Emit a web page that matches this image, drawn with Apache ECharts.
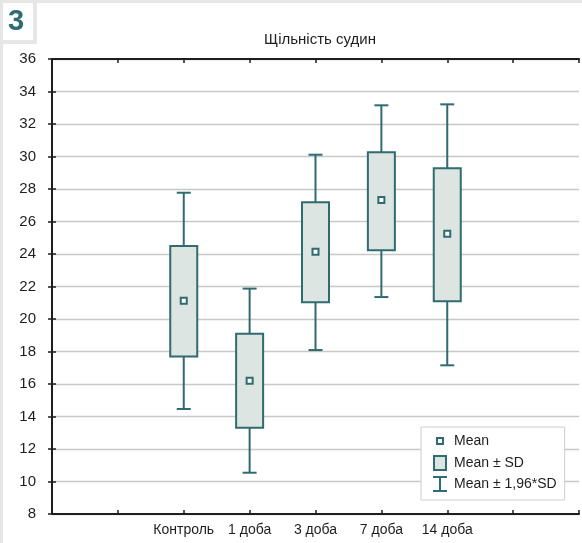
<!DOCTYPE html>
<html><head><meta charset="utf-8">
<script src="https://cdn.jsdelivr.net/npm/echarts@6/dist/echarts.min.js"></script>
<style>html,body{margin:0;padding:0;background:#fff}#c{width:582px;height:543px}</style>
</head><body><div id="c"></div>
<script>
// ---- data ----
const categories = ['Контроль', '1 доба', '3 доба', '7 доба', '14 доба'];
const means  = [21.13, 16.20, 24.14, 27.32, 25.25];
const sdLow  = [17.70, 13.31, 21.03, 24.23, 21.09];
const sdHigh = [24.49, 19.10, 27.18, 30.26, 29.27];
const ciLow  = [14.46, 10.54, 18.09, 21.35, 17.15];
const ciHigh = [27.77, 21.87, 30.11, 33.15, 33.21];
const yMin = 8, yMax = 36, yStep = 2;
const titleText = 'Щільність судин';
const panelLabel = '3';
const legendNames = ['Mean', 'Mean ± SD', 'Mean ± 1,96*SD'];

// ---- styling ----
const TEAL = '#2f6b70';
const FILL = '#dce5e1';
const FONT = '"Liberation Sans", Arial, sans-serif';
const OFFSET = 2; // first category sits on the 3rd tick
const xMax = categories.length + 2 * OFFSET - 1;

const boxData = categories.map((c, i) => [i + OFFSET, sdLow[i], sdHigh[i]]);
const whiskData = categories.map((c, i) => [i + OFFSET, ciLow[i], ciHigh[i]]);
const meanData = categories.map((c, i) => [i + OFFSET, means[i]]);

const chart = echarts.init(document.getElementById('c'), null, {renderer: 'canvas'});
const axisLine = {show: true, lineStyle: {color: '#1e1e1e', width: 2}};
const tickIn = {show: true, inside: true, length: 4, lineStyle: {color: '#1e1e1e', width: 1.5}};

chart.setOption({
  animation: false,
  textStyle: {fontFamily: FONT},
  grid: {left: 52, right: -2, top: 59, bottom: 29, containLabel: false},
  xAxis: [
    {type: 'value', min: 0, max: xMax, interval: 1, position: 'bottom',
     axisLine: axisLine, axisTick: tickIn, splitLine: {show: false},
     axisLabel: {fontSize: 14, color: '#1e1e1e', fontFamily: FONT, margin: 9,
       showMinLabel: true, showMaxLabel: true,
       formatter: v => { const i = Math.round(v) - OFFSET; return (i >= 0 && i < categories.length) ? categories[i] : ''; }}},
    {type: 'value', min: 0, max: xMax, interval: 1, position: 'top',
     axisLine: axisLine, axisTick: tickIn, splitLine: {show: false}, axisLabel: {show: false}}
  ],
  yAxis: [
    {type: 'value', min: yMin, max: yMax, interval: yStep, position: 'left',
     axisLine: axisLine, axisTick: tickIn,
     splitLine: {show: true, lineStyle: {color: '#c8c8c8', width: 1.3}},
     axisLabel: {fontSize: 15, color: '#1e1e1e', fontFamily: FONT, margin: 16}},
    {type: 'value', min: yMin, max: yMax, interval: yStep, position: 'right',
     axisLine: axisLine, axisTick: tickIn, splitLine: {show: false}, axisLabel: {show: false}}
  ],
  legend: {
    orient: 'vertical', left: 421, top: 427, padding: [5, 8, 8, 11],
    itemGap: 4, itemWidth: 14, itemHeight: 16, selectedMode: false,
    backgroundColor: '#fff', borderColor: '#d9c8cc', borderWidth: 1,
    textStyle: {fontSize: 14, color: '#1e1e1e', fontFamily: FONT, padding: [0, 0, 0, 2]},
    data: [
      {name: legendNames[0], icon: 'path://M0 0M14 16M4 5h6v6h-6z',
       itemStyle: {color: '#fff', borderColor: TEAL, borderWidth: 2}},
      {name: legendNames[1], icon: 'path://M0 0M14 16M1 1h12v14h-12z',
       itemStyle: {color: FILL, borderColor: TEAL, borderWidth: 2}},
      {name: legendNames[2], icon: 'path://M0 0h14v2h-6v12h6v2h-14v-2h6v-12h-6z',
       itemStyle: {color: TEAL, borderWidth: 0}}
    ]
  },
  graphic: [
    {type: 'rect', shape: {x: 0, y: 0, width: 582, height: 3}, style: {fill: '#e6e6e6'}, silent: true},
    {type: 'rect', shape: {x: 0, y: 0, width: 3, height: 543}, style: {fill: '#e6e6e6'}, silent: true},
    {type: 'rect', shape: {x: 33, y: 0, width: 4, height: 44}, style: {fill: '#e6e6e6'}, silent: true},
    {type: 'rect', shape: {x: 0, y: 40, width: 37, height: 4}, style: {fill: '#e6e6e6'}, silent: true},
    {type: 'text', x: 16, y: 22, style: {text: panelLabel, fill: TEAL, font: 'bold 29px ' + FONT,
      textAlign: 'center', textVerticalAlign: 'middle'}, silent: true},
    {type: 'text', x: 320, y: 40, style: {text: titleText, fill: '#1e1e1e', font: '15px ' + FONT,
      textAlign: 'center', textVerticalAlign: 'middle'}, silent: true}
  ],
  series: [
    {name: legendNames[2], type: 'custom', xAxisIndex: 0, yAxisIndex: 0, data: whiskData,
     encode: {x: 0, y: [1, 2]}, z: 2,
     itemStyle: {color: TEAL},
     renderItem: (params, api) => {
       const x = api.value(0);
       const lo = api.coord([x, api.value(1)]);
       const hi = api.coord([x, api.value(2)]);
       const hw = 7;
       const st = {stroke: TEAL, lineWidth: 2};
       return {type: 'group', children: [
         {type: 'line', shape: {x1: lo[0], y1: lo[1], x2: hi[0], y2: hi[1]}, style: st},
         {type: 'line', shape: {x1: hi[0] - hw, y1: hi[1], x2: hi[0] + hw, y2: hi[1]}, style: st},
         {type: 'line', shape: {x1: lo[0] - hw, y1: lo[1], x2: lo[0] + hw, y2: lo[1]}, style: st}
       ]};
     }},
    {name: legendNames[1], type: 'custom', xAxisIndex: 0, yAxisIndex: 0, data: boxData,
     encode: {x: 0, y: [1, 2]}, z: 3,
     itemStyle: {color: FILL, borderColor: TEAL},
     renderItem: (params, api) => {
       const x = api.value(0);
       const lo = api.coord([x, api.value(1)]);
       const hi = api.coord([x, api.value(2)]);
       const hw = 13.5;
       return {type: 'rect', shape: {x: hi[0] - hw, y: hi[1], width: hw * 2, height: lo[1] - hi[1]},
         style: {fill: FILL, stroke: TEAL, lineWidth: 2}};
     }},
    {name: legendNames[0], type: 'scatter', xAxisIndex: 0, yAxisIndex: 0, data: meanData, z: 4,
     symbol: 'rect', symbolSize: 6,
     itemStyle: {color: '#fff', borderColor: TEAL, borderWidth: 2, opacity: 1}}
  ]
});
</script>
</body></html>
